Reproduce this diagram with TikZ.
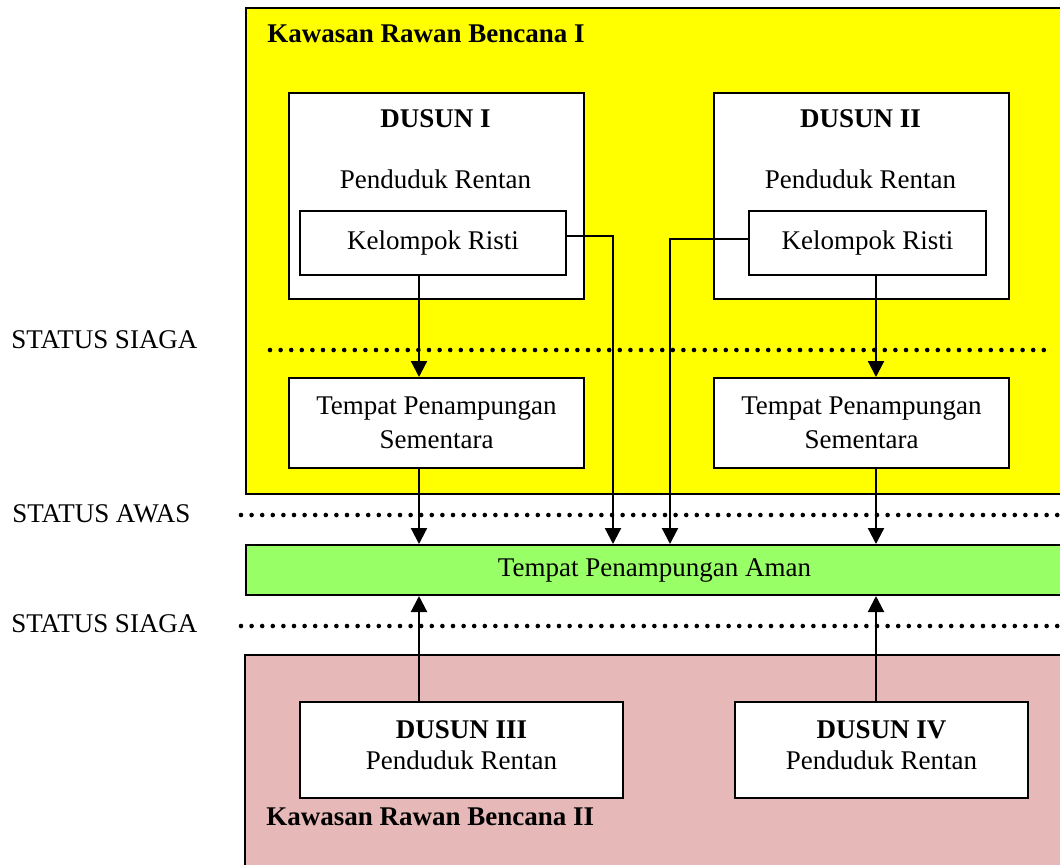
\documentclass[tikz,border=0pt]{standalone}
\usepackage{fontspec}
\setmainfont{Liberation Serif}
\usetikzlibrary{positioning,arrows.meta}
\definecolor{krbyellow}{RGB}{255,255,0}
\definecolor{amangreen}{RGB}{153,255,102}
\definecolor{krbpink}{RGB}{230,185,184}
\tikzset{
  zone/.style={draw=black, line width=1pt, anchor=north west, inner sep=0pt},
  box/.style={draw=black, fill=white, line width=1pt, anchor=north west, inner sep=0pt, align=center},
  statusline/.style={line width=2.3pt, dash pattern=on 0pt off 5.3pt, line cap=round},
  flow/.style={-{Triangle[length=8pt,width=8pt]}, line width=1.1pt}
}

\begin{document}
\begin{tikzpicture}[x=0.5pt, y=-0.5pt, font=\fontsize{13.5}{17}\selectfont]
  \useasboundingbox (0,0) rectangle (1060,864);
  % kawasan rawan bencana
  \node[zone, fill=krbyellow, minimum width=408.5pt, minimum height=243pt] (krb1) at (245,7) {};
  \node[zone, fill=krbpink, minimum width=409pt, minimum height=106pt] (krb2) at (244,654) {};
  \node[anchor=base west, inner sep=0pt] (krb1lbl) at (267,42) {\textbf{Kawasan Rawan Bencana I}};
  \node[anchor=base west, inner sep=0pt] (krb2lbl) at (266,825) {\textbf{Kawasan Rawan Bencana II}};

  % status
  \node[anchor=base west, inner sep=0pt] (siaga1) at (11,348) {STATUS SIAGA};
  \node[anchor=base west, inner sep=0pt] (awas) at (12,522) {STATUS AWAS};
  \node[anchor=base west, inner sep=0pt] (siaga2) at (11,632) {STATUS SIAGA};
  \draw[statusline] (270,350) -- (1045,350);
  \draw[statusline] (241,515) -- (1060,515);
  \draw[statusline] (241,626) -- (1060,626);

  % dusun I dan II
  \node[box, minimum width=147.5pt, minimum height=103pt] (d1) at (288,92) {};
  \node[anchor=base, inner sep=0pt] (d1name) at (435.5,127) {\textbf{DUSUN I}};
  \node[anchor=base, inner sep=0pt] (d1pop) at (435.5,188) {Penduduk Rentan};
  \node[box, minimum width=133pt, minimum height=32pt] (kr1) at (299,210) {Kelompok Risti};
  \node[box, minimum width=147.5pt, minimum height=103pt] (d2) at (713,92) {};
  \node[anchor=base, inner sep=0pt] (d2name) at (860.5,127) {\textbf{DUSUN II}};
  \node[anchor=base, inner sep=0pt] (d2pop) at (860.5,188) {Penduduk Rentan};
  \node[box, minimum width=118.5pt, minimum height=32pt] (kr2) at (748,210) {Kelompok Risti};

  % penampungan
  \node[box, minimum width=147.5pt, minimum height=45pt] (tps1) at (288,377) {Tempat Penampungan\\Sementara};
  \node[box, minimum width=147.5pt, minimum height=45pt] (tps2) at (713,377) {Tempat Penampungan\\Sementara};
  \node[box, fill=amangreen, minimum width=408.5pt, minimum height=25pt] (aman) at (245,544) {Tempat Penampungan Aman};

  % dusun III dan IV
  \node[box, minimum width=161.5pt, minimum height=48pt] (d3) at (299,701) {\textbf{DUSUN III}\\[-1.5pt]Penduduk Rentan\\[-12pt]~};
  \node[box, minimum width=146.5pt, minimum height=48pt] (d4) at (734,701) {\textbf{DUSUN IV}\\[-1.5pt]Penduduk Rentan\\[-12pt]~};

  % jalur evakuasi
  \coordinate (a1) at (419,0);
  \coordinate (a2) at (876,0);
  \coordinate (r1) at (613,236);
  \coordinate (r2) at (670,239);
  \draw[flow] (kr1.south -| a1) -- (tps1.north -| a1);
  \draw[flow] (tps1.south -| a1) -- (aman.north -| a1);
  \draw[flow] (kr2.south -| a2) -- (tps2.north -| a2);
  \draw[flow] (tps2.south -| a2) -- (aman.north -| a2);
  \draw[flow] (r1 -| kr1.east) -- (r1) -- (r1 |- aman.north);
  \draw[flow] (r2 -| kr2.west) -- (r2) -- (r2 |- aman.north);
  \draw[flow] (d3.north -| a1) -- (aman.south -| a1);
  \draw[flow] (d4.north -| a2) -- (aman.south -| a2);
\end{tikzpicture}
\end{document}
